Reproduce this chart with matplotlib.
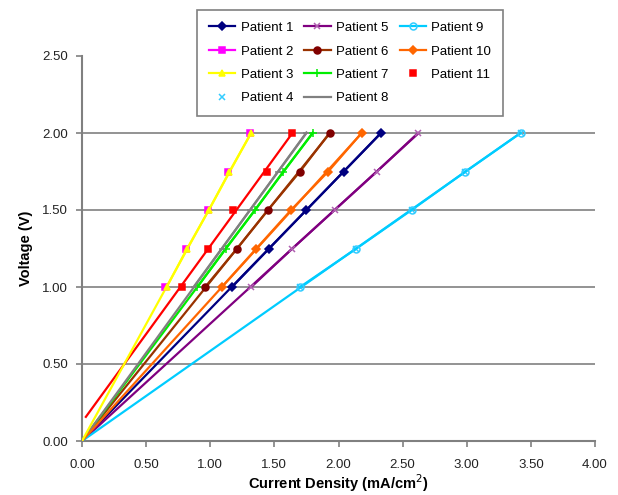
import numpy as np
import matplotlib
matplotlib.use("Agg")
import matplotlib.pyplot as plt
from matplotlib.lines import Line2D

plt.rcParams['font.family'] = ['Liberation Sans', 'DejaVu Sans']

voltage = [1.00, 1.25, 1.50, 1.75, 2.00]
patients = ["Patient 1", "Patient 2", "Patient 3", "Patient 4", "Patient 5", "Patient 6",
            "Patient 7", "Patient 8", "Patient 9", "Patient 10", "Patient 11"]
p1 = [1.17, 1.46, 1.75, 2.04, 2.33]
p2 = [0.65, 0.81, 0.98, 1.14, 1.31]
p3 = [0.66, 0.82, 0.99, 1.15, 1.32]
p4 = [1.70, 2.14, 2.57, 2.99, 3.42]
p5 = [1.32, 1.64, 1.97, 2.30, 2.62]
p6 = [0.96, 1.21, 1.45, 1.70, 1.93]
p7 = [0.90, 1.12, 1.35, 1.57, 1.80]
p8 = [0.87, 1.09, 1.31, 1.53, 1.75]
p9 = [1.70, 2.14, 2.57, 2.99, 3.42]
p10 = [1.09, 1.36, 1.63, 1.92, 2.18]
p11 = [0.78, 0.98, 1.18, 1.44, 1.64]
series = [p1, p2, p3, p4, p5, p6, p7, p8, p9, p10, p11]

marker_colors = ["#000080", "#FF00FF", "#FFFF00", "#33CCFF", "#B060B0", "#800000",
                 "#00EE00", "#808080", "#33CCFF", "#FF6600", "#FF0000"]
line_colors = ["#000080", "#FF00FF", "#FFFF00", "#00CCFF", "#800080", "#993300",
               "#00EE00", "#808080", "#00CCFF", "#FF6600", "#FF0000"]
markers = ["D", "s", "^", "x", "x", "o", "+", "_", "o", "D", "s"]
msizes = [4, 4.5, 5, 4, 4.5, 5, 6, 5, 5, 4, 5]
show_line = [True, True, True, False, True, True, True, True, True, True, False]
connect_in_plot = [True, False, True, False, True, True, True, True, True, True, False]
draw_trend = [True, False, True, False, True, True, True, True, True, True, True]
origin_fit = [True] * 10 + [False]
zorders = [4, 2.5, 6, 4, 4, 4, 4, 4, 4, 4, 4]

fig = plt.figure(figsize=(6.18, 4.95), dpi=100)
ax = fig.add_axes([82/618, 1-441/495, (595-82)/618, (441-56)/495])

grid_y = [0.5, 1.0, 1.5, 2.0]
for g in grid_y:
    ax.axhline(g, color="#808080", lw=1.2, zorder=1)

v = np.array(voltage)
for i, xs in enumerate(series):
    if not draw_trend[i]:
        continue
    x = np.array(xs)
    if origin_fit[i]:
        slope = np.sum(x * v) / np.sum(x * x)
        tx = np.array([0.0, x.max()])
        ty = slope * tx
    else:
        a, b = np.polyfit(x, v, 1)
        tx = np.array([0.03, x.max()])
        ty = a * tx + b
    ax.plot(tx, ty, color=line_colors[i], lw=1.6, zorder=zorders[i] - 0.5)

handles = []
for i, xs in enumerate(series):
    mfc = "none" if i == 8 else marker_colors[i]
    style = dict(color=line_colors[i], marker=markers[i], markersize=msizes[i],
                 mfc=mfc, mec=marker_colors[i], mew=1.1)
    z = 5.5 if i == 1 else zorders[i]
    ax.plot(xs, voltage, linestyle="-" if connect_in_plot[i] else "none",
            lw=1.6, zorder=z, **style)
    handles.append(Line2D([], [], linestyle="-" if show_line[i] else "none",
                          lw=1.6, label=patients[i], **style))

ax.set_xlim(0, 4.0)
ax.set_ylim(0, 2.5)
ax.set_xticks(np.arange(0, 4.01, 0.5))
ax.set_yticks(np.arange(0, 2.51, 0.5))
ax.set_xticklabels([f"{t:.2f}" for t in np.arange(0, 4.01, 0.5)], fontsize=9.5, color="#222222")
ax.set_yticklabels([f"{t:.2f}" for t in np.arange(0, 2.51, 0.5)], fontsize=9.5, color="#222222")
ax.tick_params(direction="out", length=4, color="#808080", width=1.2)
ax.tick_params(axis="x", pad=9)
ax.tick_params(axis="y", pad=6)
for s in ["top", "right"]:
    ax.spines[s].set_visible(False)
for s in ["left", "bottom"]:
    ax.spines[s].set_color("#808080")
    ax.spines[s].set_linewidth(1.5)

ax.set_xlabel("Current Density (mA/cm$^2$)", fontsize=10.5, fontweight="bold", labelpad=1)
ax.set_ylabel("Voltage (V)", fontsize=10.5, fontweight="bold", labelpad=7)

leg = fig.legend(handles=handles, ncol=3, loc="upper left",
                 bbox_to_anchor=(197/618, 1-10/495), fontsize=9.5,
                 frameon=True, fancybox=False, edgecolor="#606060",
                 handlelength=2.0, columnspacing=0.85, labelspacing=0.85,
                 borderpad=0.9, handletextpad=0.4, borderaxespad=0)
leg.get_frame().set_linewidth(1.2)

fig.savefig("out.png", dpi=100)
